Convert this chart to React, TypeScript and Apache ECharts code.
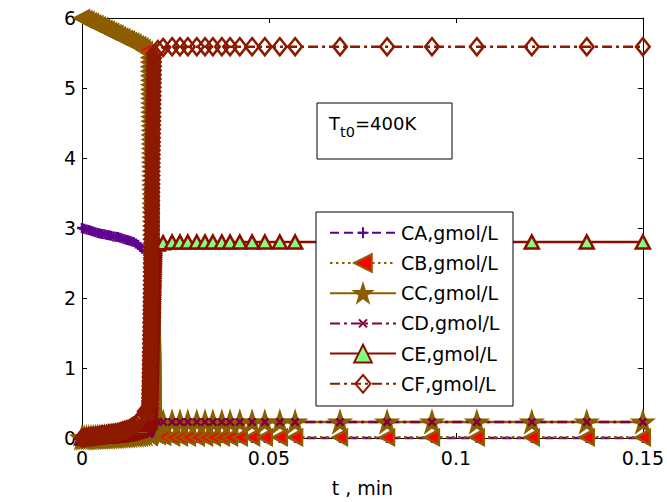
import React, { useEffect, useRef } from "react";
import * as echarts from "echarts";

// Time, min: slow warm-up, runaway, then the settled tail
const tMin = [
  0, 0.0006, 0.0012, 0.0018, 0.0024, 0.003, 0.0036, 0.0042, 0.0048, 0.0054,
  0.006, 0.0066, 0.0072, 0.0078, 0.0084, 0.009, 0.0096, 0.0102, 0.0108, 0.0114,
  0.012, 0.0126, 0.0132, 0.0138, 0.0144, 0.015, 0.0156, 0.0162, 0.0168,

  0.018, 0.018015, 0.01803, 0.018045, 0.01806, 0.018075, 0.01809, 0.018105, 0.01812, 0.018135,
  0.01815, 0.018165, 0.01818, 0.018195, 0.01821, 0.018225, 0.01824, 0.018255, 0.01827, 0.018285,
  0.0183, 0.018315, 0.01833, 0.018345, 0.01836, 0.018375, 0.01839, 0.018405, 0.01842, 0.018435,
  0.01845, 0.018465, 0.01848, 0.018495, 0.01851, 0.018525, 0.01854, 0.018555, 0.01857, 0.018585,
  0.0186, 0.018615, 0.01863, 0.018645, 0.01866, 0.018675, 0.01869, 0.018705, 0.01872, 0.018735,
  0.01875, 0.018765, 0.01878, 0.018795, 0.01881, 0.018825, 0.01884, 0.018855, 0.01887, 0.018885,
  0.0189, 0.018915, 0.01893, 0.018945, 0.01896, 0.018975, 0.01899, 0.019005, 0.01902, 0.019035,
  0.01905, 0.019065, 0.01908, 0.019095, 0.01911, 0.019125, 0.01914, 0.019155, 0.01917, 0.019185,
  0.0192, 0.019215, 0.01923, 0.019245, 0.01926,

  0.0203, 0.0217, 0.0241, 0.0262, 0.0283, 0.0307, 0.0329, 0.035, 0.0374, 0.0396,
  0.0422, 0.0455, 0.0489, 0.0529, 0.057, 0.069, 0.0816, 0.0936, 0.1056, 0.1203,
  0.135, 0.15,
];

// Concentrations, gmol/L
const cA = [
  3.0, 2.99, 2.98, 2.97, 2.96, 2.95, 2.94, 2.93, 2.92, 2.915,
  2.91, 2.9, 2.895, 2.89, 2.88, 2.875, 2.87, 2.86, 2.85, 2.84,
  2.83, 2.82, 2.81, 2.8, 2.78, 2.76, 2.73, 2.7, 2.67,

  2.64, 2.61, 2.58, 2.55, 2.52, 2.49, 2.46, 2.43, 2.4, 2.37,
  2.34, 2.31, 2.28, 2.25, 2.22, 2.19, 2.16, 2.13, 2.1, 2.07,
  2.04, 2.01, 1.98, 1.95, 1.92, 1.89, 1.86, 1.83, 1.8, 1.77,
  1.74, 1.71, 1.68, 1.65, 1.62, 1.59, 1.56, 1.53, 1.5, 1.47,
  1.44, 1.41, 1.38, 1.35, 1.32, 1.29, 1.26, 1.23, 1.2, 1.17,
  1.14, 1.11, 1.08, 1.05, 1.02, 0.99, 0.96, 0.93, 0.9, 0.87,
  0.84, 0.81, 0.78, 0.75, 0.72, 0.69, 0.66, 0.63, 0.6, 0.57,
  0.54, 0.51, 0.48, 0.45, 0.42, 0.39, 0.36, 0.33, 0.3, 0.27,
  0.24, 0.2, 0.16, 0.12, 0.08,

  0.04, 0.02, 0.01, 0.005, 0, 0, 0, 0, 0, 0,
  0, 0, 0, 0, 0, 0, 0, 0, 0, 0,
  0, 0,
];
const cB = [
  6.0, 5.98, 5.97, 5.95, 5.94, 5.92, 5.91, 5.89, 5.88, 5.86,
  5.84, 5.83, 5.81, 5.8, 5.78, 5.77, 5.75, 5.73, 5.72, 5.7,
  5.69, 5.67, 5.66, 5.64, 5.62, 5.61, 5.59, 5.57, 5.54,

  5.5, 5.435, 5.37, 5.305, 5.24, 5.175, 5.11, 5.045, 4.98, 4.915,
  4.85, 4.785, 4.72, 4.655, 4.59, 4.525, 4.46, 4.395, 4.33, 4.265,
  4.2, 4.135, 4.07, 4.005, 3.94, 3.875, 3.81, 3.745, 3.68, 3.615,
  3.55, 3.485, 3.42, 3.355, 3.29, 3.225, 3.16, 3.095, 3.03, 2.965,
  2.9, 2.835, 2.77, 2.705, 2.64, 2.575, 2.51, 2.445, 2.38, 2.315,
  2.25, 2.185, 2.12, 2.055, 1.99, 1.925, 1.86, 1.795, 1.73, 1.665,
  1.6, 1.535, 1.47, 1.405, 1.34, 1.275, 1.21, 1.145, 1.08, 1.015,
  0.95, 0.885, 0.82, 0.755, 0.69, 0.625, 0.56, 0.495, 0.43, 0.365,
  0.3, 0.235, 0.17, 0.105, 0.06,

  0.03, 0.02, 0.01, 0.01, 0.01, 0.01, 0.01, 0.01, 0.01, 0.01,
  0.01, 0.01, 0.01, 0.01, 0.01, 0.01, 0.01, 0.01, 0.01, 0.01,
  0.01, 0.01,
];
const cC = [
  0, 0.002, 0.004, 0.005, 0.007, 0.008, 0.01, 0.011, 0.013, 0.014,
  0.016, 0.017, 0.019, 0.02, 0.022, 0.024, 0.026, 0.028, 0.03, 0.032,
  0.034, 0.036, 0.039, 0.042, 0.045, 0.048, 0.052, 0.056, 0.06,

  0.062, 0.064, 0.066, 0.068, 0.07, 0.072, 0.074, 0.076, 0.078, 0.08,
  0.082, 0.084, 0.086, 0.088, 0.09, 0.092, 0.094, 0.096, 0.098, 0.1,
  0.102, 0.104, 0.106, 0.108, 0.11, 0.112, 0.114, 0.116, 0.118, 0.12,
  0.122, 0.124, 0.126, 0.128, 0.13, 0.132, 0.134, 0.136, 0.138, 0.14,
  0.142, 0.144, 0.146, 0.148, 0.15, 0.152, 0.154, 0.156, 0.158, 0.16,
  0.162, 0.164, 0.166, 0.168, 0.17, 0.172, 0.174, 0.176, 0.178, 0.18,
  0.182, 0.184, 0.186, 0.188, 0.19, 0.192, 0.194, 0.196, 0.198, 0.2,
  0.202, 0.204, 0.206, 0.208, 0.21, 0.212, 0.214, 0.216, 0.218, 0.22,
  0.222, 0.224, 0.226, 0.228, 0.23,

  0.23, 0.23, 0.23, 0.23, 0.23, 0.23, 0.23, 0.23, 0.23, 0.23,
  0.23, 0.23, 0.23, 0.23, 0.23, 0.23, 0.23, 0.23, 0.23, 0.23,
  0.23, 0.23,
];
const cD = [
  0, 0.001, 0.003, 0.004, 0.006, 0.007, 0.009, 0.01, 0.012, 0.013,
  0.015, 0.016, 0.018, 0.019, 0.021, 0.023, 0.025, 0.027, 0.029, 0.031,
  0.033, 0.035, 0.038, 0.041, 0.044, 0.047, 0.051, 0.055, 0.059,

  0.061, 0.063, 0.065, 0.067, 0.069, 0.071, 0.073, 0.075, 0.077, 0.079,
  0.081, 0.083, 0.085, 0.087, 0.089, 0.091, 0.093, 0.095, 0.097, 0.099,
  0.101, 0.103, 0.105, 0.107, 0.109, 0.111, 0.113, 0.115, 0.117, 0.119,
  0.121, 0.123, 0.125, 0.127, 0.129, 0.131, 0.133, 0.135, 0.137, 0.139,
  0.141, 0.143, 0.145, 0.147, 0.149, 0.151, 0.153, 0.155, 0.157, 0.159,
  0.161, 0.163, 0.165, 0.167, 0.169, 0.171, 0.173, 0.175, 0.177, 0.179,
  0.181, 0.183, 0.185, 0.187, 0.189, 0.191, 0.193, 0.195, 0.197, 0.199,
  0.201, 0.203, 0.205, 0.207, 0.209, 0.211, 0.213, 0.215, 0.217, 0.219,
  0.221, 0.223, 0.225, 0.227, 0.229,

  0.23, 0.23, 0.23, 0.23, 0.23, 0.23, 0.23, 0.23, 0.23, 0.23,
  0.23, 0.23, 0.23, 0.23, 0.23, 0.23, 0.23, 0.23, 0.23, 0.23,
  0.23, 0.23,
];
const cE = [
  0, 0.003, 0.005, 0.008, 0.01, 0.013, 0.015, 0.018, 0.02, 0.023,
  0.025, 0.028, 0.03, 0.033, 0.035, 0.038, 0.04, 0.045, 0.05, 0.055,
  0.06, 0.065, 0.075, 0.085, 0.095, 0.11, 0.13, 0.155, 0.19,

  0.22, 0.25, 0.28, 0.31, 0.34, 0.37, 0.4, 0.43, 0.46, 0.49,
  0.52, 0.55, 0.58, 0.61, 0.64, 0.67, 0.7, 0.73, 0.76, 0.79,
  0.82, 0.85, 0.88, 0.91, 0.94, 0.97, 1.0, 1.03, 1.06, 1.09,
  1.12, 1.15, 1.18, 1.21, 1.24, 1.27, 1.3, 1.33, 1.36, 1.39,
  1.42, 1.45, 1.48, 1.51, 1.54, 1.57, 1.6, 1.63, 1.66, 1.69,
  1.72, 1.75, 1.78, 1.81, 1.84, 1.87, 1.9, 1.93, 1.96, 1.99,
  2.02, 2.05, 2.08, 2.11, 2.14, 2.17, 2.2, 2.23, 2.26, 2.29,
  2.32, 2.35, 2.38, 2.41, 2.44, 2.47, 2.5, 2.53, 2.56, 2.59,
  2.62, 2.65, 2.68, 2.71, 2.74,

  2.77, 2.79, 2.8, 2.8, 2.8, 2.8, 2.8, 2.8, 2.8, 2.8,
  2.8, 2.8, 2.8, 2.8, 2.8, 2.8, 2.8, 2.8, 2.8, 2.8,
  2.8, 2.8,
];
const cF = [
  0, 0.005, 0.01, 0.015, 0.02, 0.025, 0.03, 0.035, 0.04, 0.045,
  0.05, 0.055, 0.06, 0.065, 0.07, 0.075, 0.08, 0.09, 0.1, 0.11,
  0.12, 0.13, 0.15, 0.17, 0.19, 0.22, 0.26, 0.31, 0.38,

  0.45, 0.51, 0.57, 0.63, 0.69, 0.75, 0.81, 0.87, 0.93, 0.99,
  1.05, 1.11, 1.17, 1.23, 1.29, 1.35, 1.41, 1.47, 1.53, 1.59,
  1.65, 1.71, 1.77, 1.83, 1.89, 1.95, 2.01, 2.07, 2.13, 2.19,
  2.25, 2.31, 2.37, 2.43, 2.49, 2.55, 2.61, 2.67, 2.73, 2.79,
  2.85, 2.91, 2.97, 3.03, 3.09, 3.15, 3.21, 3.27, 3.33, 3.39,
  3.45, 3.51, 3.57, 3.63, 3.69, 3.75, 3.81, 3.87, 3.93, 3.99,
  4.05, 4.11, 4.17, 4.23, 4.29, 4.35, 4.41, 4.47, 4.53, 4.59,
  4.65, 4.71, 4.77, 4.83, 4.89, 4.95, 5.01, 5.07, 5.13, 5.19,
  5.25, 5.31, 5.37, 5.43, 5.49,

  5.55, 5.58, 5.59, 5.59, 5.59, 5.59, 5.59, 5.59, 5.59, 5.59,
  5.59, 5.59, 5.59, 5.59, 5.59, 5.59, 5.59, 5.59, 5.59, 5.59,
  5.59, 5.59,
];

const seriesNames = [
  "CA,gmol/L",
  "CB,gmol/L",
  "CC,gmol/L",
  "CD,gmol/L",
  "CE,gmol/L",
  "CF,gmol/L",
];

const xTicks = [0, 0.05, 0.1, 0.15];
const yTicks = [0, 1, 2, 3, 4, 5, 6];

const FONT = "DejaVu Sans";

// marker shapes; the leading moves pad the box so the stroke-only marks stay small
const PLUS = "path://M-3,-3M13,13M5,0L5,10M0,5L10,5";
const CROSS = "path://M-6,-6M16,16M0,0L10,10M10,0L0,10";
const STAR =
  "path://M50,0L61.8,35.3L99,35.3L69,57.2L80.4,92.6L50,70.9L19.6,92.6L31,57.2L1,35.3L38.2,35.3Z";
const DIAMOND = "path://M-1,8M13,8M6,0L12,8L6,16L0,8Z";

const DASH = [9, 5];
const DOT = [2.5, 3.5];
const DASHDOT = [10, 4, 3, 4];

function toPairs(vals: number[]) {
  return tMin.map((t, i) => [t, vals[i]]);
}

function curve(
  name: string,
  vals: number[],
  opts: {
    lineColor: string;
    lineType: any;
    symbol: string;
    symbolSize: any;
    fill: string;
    edge: string;
    rotate?: number;
  }
) {
  return {
    type: "line",
    name,
    data: toPairs(vals),
    clip: false,
    showSymbol: true,
    showAllSymbol: true,
    symbol: opts.symbol,
    symbolSize: opts.symbolSize,
    symbolRotate: opts.rotate || 0,
    silent: true,
    emphasis: { disabled: true },
    lineStyle: { color: opts.lineColor, width: 2.5, type: opts.lineType },
    itemStyle: { color: opts.fill, borderColor: opts.edge, borderWidth: 2.5 },
  };
}

export default function App() {
  const ref = useRef<HTMLDivElement>(null);

  useEffect(() => {
    if (!ref.current) return;
    const chart = echarts.init(ref.current, null, { renderer: "svg" });

    const axisLine = { onZero: false, lineStyle: { color: "#000", width: 1 } };
    const tick = { inside: true, length: 5, lineStyle: { color: "#000", width: 1 } };
    const label = { fontFamily: FONT, fontSize: 19, color: "#000" };

    const xBase = {
      type: "value",
      min: xTicks[0],
      max: xTicks[xTicks.length - 1],
      interval: xTicks[1] - xTicks[0],
      splitLine: { show: false },
      axisLine,
      axisTick: tick,
    };
    const yBase = {
      type: "value",
      min: yTicks[0],
      max: yTicks[yTicks.length - 1],
      interval: yTicks[1] - yTicks[0],
      splitLine: { show: false },
      axisLine,
      axisTick: tick,
    };

    chart.setOption({
      animation: false,
      backgroundColor: "#fff",
      grid: { left: 82, right: 24, top: 18, bottom: 63 },
      xAxis: [
        {
          ...xBase,
          position: "bottom",
          axisLabel: { ...label, margin: 10 },
          name: "t , min",
          nameLocation: "middle",
          nameGap: 40,
          nameTextStyle: { ...label },
        },
        { ...xBase, position: "top", axisLabel: { show: false } },
      ],
      yAxis: [
        { ...yBase, position: "left", axisLabel: { ...label, margin: 6 } },
        { ...yBase, position: "right", axisLabel: { show: false } },
      ],
      legend: {
        orient: "vertical",
        left: 329,
        top: 223,
        itemWidth: 66,
        itemHeight: 22,
        itemGap: 10.6,
        padding: 0,
        selectedMode: false,
        textStyle: { ...label },
        data: seriesNames,
        z: 6,
      },
      graphic: [
        {
          type: "rect",
          z: 5,
          shape: { x: 316, y: 212, width: 197, height: 194 },
          style: { fill: "#fff", stroke: "#000", lineWidth: 1 },
        },
        {
          type: "rect",
          z: 5,
          shape: { x: 317, y: 103, width: 135, height: 56 },
          style: { fill: "#fff", stroke: "#000", lineWidth: 1 },
        },
        {
          type: "text",
          z: 6,
          x: 329,
          y: 123,
          style: { text: "T", font: `18px ${FONT}`, fill: "#000", verticalAlign: "middle" },
        },
        {
          type: "text",
          z: 6,
          x: 340,
          y: 132,
          style: { text: "t0", font: `14.5px ${FONT}`, fill: "#000", verticalAlign: "middle" },
        },
        {
          type: "text",
          z: 6,
          x: 355,
          y: 123,
          style: { text: "=400K", font: `18px ${FONT}`, fill: "#000", verticalAlign: "middle" },
        },
      ],
      series: [
        curve(seriesNames[0], cA, {
          lineColor: "#60008f",
          lineType: DASH,
          symbol: PLUS,
          symbolSize: 16,
          fill: "transparent",
          edge: "#60008f",
        }),
        curve(seriesNames[1], cB, {
          lineColor: "#8b5e00",
          lineType: DOT,
          symbol: "triangle",
          symbolSize: [15, 14],
          fill: "#ff0000",
          edge: "#8b5e00",
          rotate: 90,
        }),
        curve(seriesNames[2], cC, {
          lineColor: "#8b5e00",
          lineType: "solid",
          symbol: STAR,
          symbolSize: 19,
          fill: "#8b5e00",
          edge: "#8b5e00",
        }),
        curve(seriesNames[3], cD, {
          lineColor: "#80003c",
          lineType: DASHDOT,
          symbol: CROSS,
          symbolSize: 16,
          fill: "transparent",
          edge: "#80003c",
        }),
        curve(seriesNames[4], cE, {
          lineColor: "#8c0c00",
          lineType: "solid",
          symbol: "triangle",
          symbolSize: [14, 13],
          fill: "#80ff80",
          edge: "#8c0c00",
        }),
        curve(seriesNames[5], cF, {
          lineColor: "#8c1a00",
          lineType: DASHDOT,
          symbol: DIAMOND,
          symbolSize: [16, 17],
          fill: "transparent",
          edge: "#8c1a00",
        }),
      ],
    });

    return () => chart.dispose();
  }, []);

  return (
    <div
      ref={ref}
      style={{ position: "fixed", left: 0, top: 0, width: 667, height: 502, background: "#fff" }}
    />
  );
}
